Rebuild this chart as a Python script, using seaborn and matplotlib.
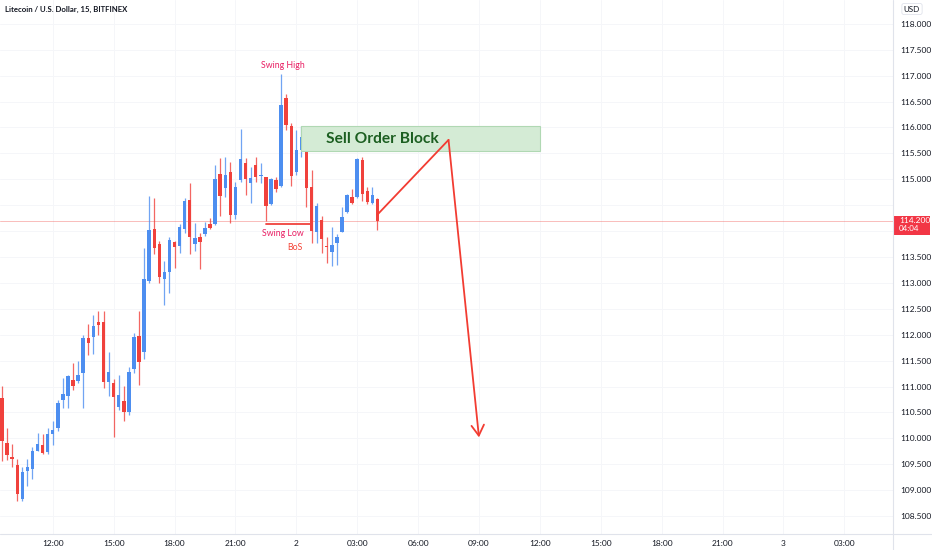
import numpy as np
import pandas as pd
import matplotlib
matplotlib.use("Agg")
import matplotlib.pyplot as plt
import matplotlib.dates as mdates
from matplotlib.patches import Rectangle
from matplotlib.lines import Line2D
from matplotlib.ticker import FixedLocator, FuncFormatter
from matplotlib.transforms import blended_transform_factory
import seaborn as sns

# LTC/USD 15m candles, Bitfinex
opens = [110.77, 109.92, 109.65, 109.48, 108.83, 109.37, 109.40, 109.76, 109.87, 109.73,
         110.08, 110.21, 110.74, 110.81, 111.13, 111.11, 111.27, 111.93, 111.95, 112.24,
         112.25, 111.09, 111.07, 110.60, 110.73, 110.51, 111.33, 111.97, 111.66, 113.03,
         114.05, 113.75, 113.07, 113.22, 113.79, 113.71, 114.05, 114.61, 113.75, 113.89,
         113.95, 114.14, 114.14, 115.10, 114.83, 115.14, 114.32, 114.98, 115.31, 114.93,
         115.28, 115.06, 115.04, 114.52, 114.98, 114.87, 116.56, 116.02, 115.14, 115.57,
         115.81, 114.85, 113.99, 114.22, 113.72, 113.60, 113.77, 113.99, 114.36, 114.65,
         114.65, 115.37, 114.77, 114.55, 114.62]
highs = [111.02, 110.21, 109.90, 109.61, 109.45, 109.61, 109.84, 110.10, 110.08, 110.21,
         110.33, 110.75, 111.17, 111.23, 111.46, 111.50, 111.99, 112.21, 112.38, 112.46,
         112.46, 111.66, 111.14, 111.23, 111.02, 111.37, 112.04, 112.46, 113.68, 114.67,
         114.63, 113.81, 113.42, 113.88, 113.81, 114.14, 114.63, 114.92, 114.16, 113.97,
         114.18, 114.26, 115.27, 115.41, 115.43, 115.34, 114.94, 115.97, 115.41, 115.24,
         115.43, 115.31, 115.05, 115.02, 115.04, 117.03, 116.65, 116.09, 115.96, 116.02,
         115.81, 115.17, 114.55, 114.30, 113.88, 114.08, 113.94, 114.46, 114.72, 114.82,
         115.42, 115.43, 114.85, 114.85, 114.63]
lows = [109.57, 109.59, 109.45, 108.79, 108.79, 109.09, 109.22, 109.75, 109.70, 109.70,
        109.87, 110.14, 110.59, 110.59, 110.94, 111.07, 110.59, 111.60, 111.62, 111.99,
        110.98, 110.81, 110.02, 110.55, 110.33, 110.45, 111.27, 111.04, 111.53, 112.99,
        113.55, 112.99, 112.58, 112.80, 113.28, 113.58, 113.97, 113.55, 113.61, 113.26,
        113.90, 114.04, 114.11, 114.30, 114.65, 114.16, 114.23, 114.94, 114.69, 114.55,
        114.94, 114.92, 114.20, 114.50, 114.75, 114.85, 115.96, 114.88, 115.08, 115.43,
        114.46, 113.77, 113.77, 113.58, 113.38, 113.32, 113.35, 113.98, 114.34, 114.52,
        114.63, 114.59, 114.53, 114.53, 114.02]
closes = [109.95, 109.67, 109.61, 108.93, 109.36, 109.44, 109.76, 109.90, 109.71, 110.08,
          110.17, 110.68, 110.86, 111.21, 111.02, 111.23, 111.93, 111.84, 112.17, 112.18,
          111.09, 111.29, 110.79, 110.84, 110.50, 111.29, 111.95, 111.48, 113.08, 114.02,
          113.67, 113.11, 113.22, 113.83, 113.70, 114.08, 114.59, 113.88, 113.87, 113.79,
          114.06, 114.06, 115.01, 114.68, 115.08, 114.31, 114.85, 115.39, 115.00, 115.02,
          115.04, 115.08, 114.49, 115.00, 114.82, 116.43, 116.04, 115.06, 115.57, 115.81,
          114.84, 114.00, 114.49, 113.84, 113.69, 113.73, 113.89, 114.28, 114.69, 114.55,
          115.40, 114.71, 114.57, 114.69, 114.20]

# drawings
order_block = (115.55, 116.02)          # price range of the sell order block
bos_level = 114.14
path_prices = [114.32, 115.76, 110.02]  # projected move
price_ticks = [108.5 + 0.5 * i for i in range(20)]
countdown = "04:04"

times = pd.date_range("2023-07-01 09:30", periods=len(opens), freq="15min")
df = pd.DataFrame({"time": times, "open": opens, "high": highs,
                   "low": lows, "close": closes})
df["x"] = mdates.date2num(df["time"])
df["up"] = df["close"] >= df["open"]

BLUE = "#4d8ef0"
RED = "#f0413c"
PINK = "#e91e63"
TXT = "#131722"

sns.set_style("white")
plt.rcParams["font.family"] = ["Lato", "DejaVu Sans"]

W, H = 932, 550
fig = plt.figure(figsize=(W / 100, H / 100), dpi=100)
ax = fig.add_axes([0, 1 - 534 / H, 893 / W, 534 / H])

day = 1 / 96
colors = np.where(df["up"], BLUE, RED)
ax.vlines(df["x"], df["low"], df["high"], colors=colors, lw=0.9, alpha=0.8, zorder=3)
ax.bar(df["x"], (df["close"] - df["open"]).abs().clip(lower=0.02),
       bottom=df[["open", "close"]].min(axis=1), width=0.68 * day,
       color=colors, linewidth=0, zorder=4)

# current price line
last = df["close"].iloc[-1]
ax.axhline(last, color=RED, lw=0.7, alpha=0.35, zorder=2)

# sell order block
t_ob0 = mdates.date2num(pd.Timestamp("2023-07-02 00:15"))
t_ob1 = mdates.date2num(pd.Timestamp("2023-07-02 12:00"))
ax.add_patch(Rectangle((t_ob0, order_block[0]), t_ob1 - t_ob0,
                       order_block[1] - order_block[0],
                       facecolor="#d4ebd5", edgecolor="#b0d8b3", lw=0.8, zorder=5))
ax.text(mdates.date2num(pd.Timestamp("2023-07-02 04:15")), sum(order_block) / 2,
        "Sell Order Block", color="#1b5e20", fontsize=11.2, fontweight="bold",
        ha="center", va="center", zorder=6)

# break of structure
t53 = df["x"].iloc[52]
t62 = df["x"].iloc[61]
ax.plot([t53, t62], [bos_level, bos_level], color=RED, lw=1.3, zorder=6)
t_lbl = mdates.date2num(pd.Timestamp("2023-07-01 23:20"))
ax.text(t_lbl, 117.19, "Swing High", color=PINK, fontsize=6.3, ha="center", va="center")
ax.text(t_lbl, 113.95, "Swing Low", color=PINK, fontsize=6.3, ha="center", va="center")
ax.text(mdates.date2num(pd.Timestamp("2023-07-01 23:55")), 113.69, "BoS",
        color="#f44336", fontsize=6.3, ha="center", va="center")

# projection path with arrow
path_t = [df["x"].iloc[-1],
          mdates.date2num(pd.Timestamp("2023-07-02 07:30")),
          mdates.date2num(pd.Timestamp("2023-07-02 09:00"))]
ax.plot(path_t[:2], path_prices[:2], color="#f23c32", lw=1.3, zorder=7)
ax.annotate("", xy=(path_t[2], path_prices[2]), xytext=(path_t[1], path_prices[1]),
            arrowprops=dict(arrowstyle="->,head_length=0.75,head_width=0.45",
                            color="#f23c32", lw=1.3, shrinkA=0, shrinkB=0), zorder=7)

# axes
ax.set_xlim(mdates.date2num(pd.Timestamp("2023-07-01 09:24")),
            mdates.date2num(pd.Timestamp("2023-07-03 05:24")))
ax.set_ylim(108.155, 118.46)
ax.yaxis.tick_right()
ax.yaxis.set_major_locator(FixedLocator(price_ticks))
# the live price label hides the tick next to it
ax.yaxis.set_major_formatter(FuncFormatter(
    lambda v, p: "" if abs(v - last) < 0.3 else f"{v:.3f}"))
ax.xaxis.set_major_locator(mdates.HourLocator(byhour=range(0, 24, 3)))


def fmt_time(v, pos):
    t = mdates.num2date(v)
    return str(t.day) if t.hour == 0 else t.strftime("%H:%M")


ax.xaxis.set_major_formatter(FuncFormatter(fmt_time))
ax.tick_params(axis="both", length=0, labelsize=6.0, labelcolor=TXT)
ax.tick_params(axis="y", pad=5)
ax.tick_params(axis="x", pad=4)
ax.grid(True, color="#f5f6f9", lw=0.7)
for s in ax.spines.values():
    s.set_visible(False)

fig.add_artist(Line2D([0, 1], [1 - 534 / H] * 2, color="#e0e3eb", lw=0.8))
fig.add_artist(Line2D([893 / W] * 2, [0, 1], color="#e0e3eb", lw=0.8))

# price label on the axis
tr = blended_transform_factory(fig.transFigure, ax.transData)
ax.add_patch(Rectangle((893 / W, last - 0.28), 37 / W, 0.37, transform=tr,
                       facecolor="#f23645", edgecolor="none", clip_on=False, zorder=8))
ax.text(899 / W, last, f"{last:.3f}", transform=tr, color="white",
        fontsize=6.0, va="center", ha="left", clip_on=False, zorder=9)
ax.text(899 / W, last - 0.15, countdown, transform=tr, color="white",
        fontsize=5.8, va="center", ha="left", clip_on=False, zorder=9)

fig.text(912 / W, 1 - 9 / H, "USD", fontsize=5.8, color=TXT, ha="center", va="center",
         bbox=dict(boxstyle="round,pad=0.25", fc="white", ec="#e0e3eb", lw=0.6))
fig.text(5 / W, 1 - 9.5 / H, "Litecoin / U.S. Dollar, 15, BITFINEX", fontsize=5.6,
         fontweight="bold", color=TXT, ha="left", va="center")

fig.savefig("out.png", dpi=100)
